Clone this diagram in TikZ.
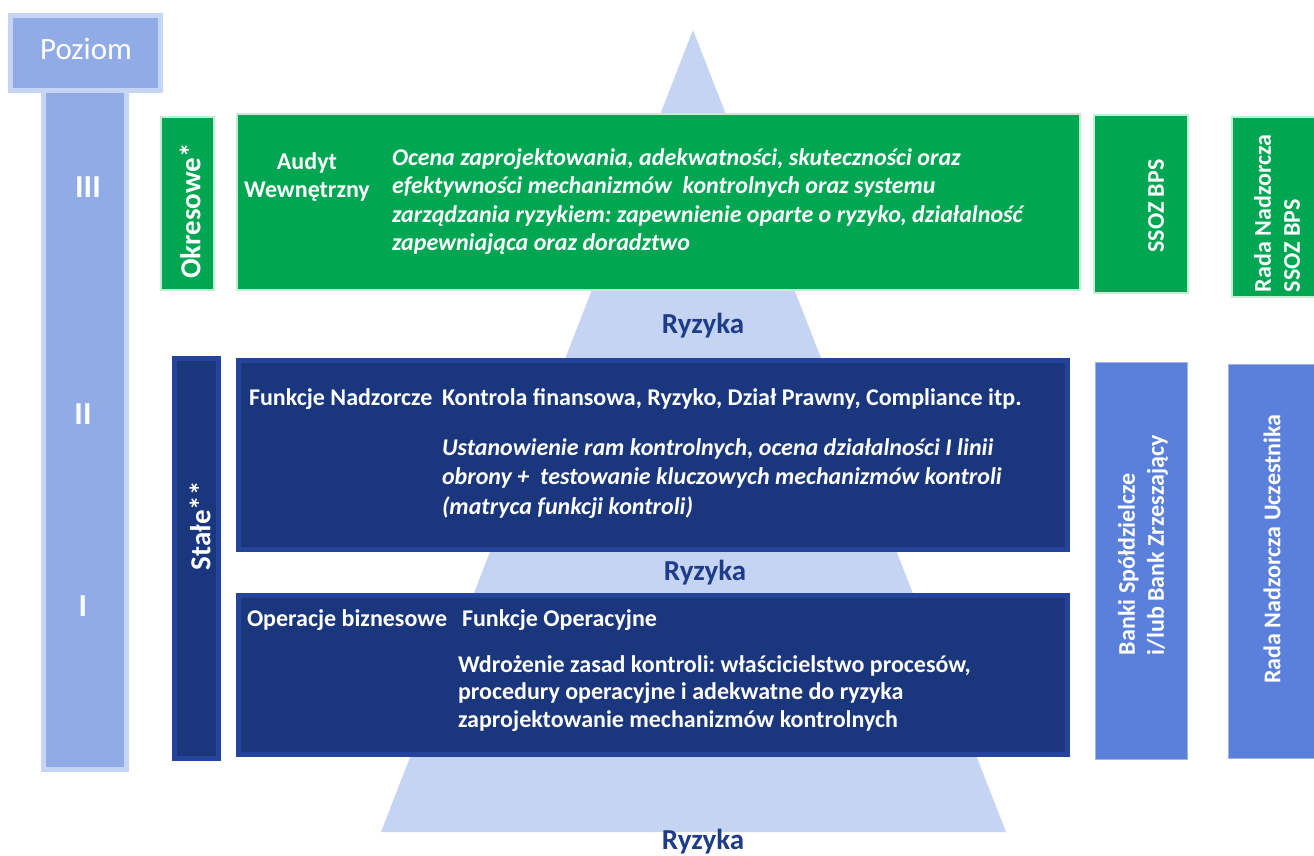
\documentclass[tikz,border=0pt]{standalone}
\usepackage{fontspec}
\setmainfont{Carlito}
\frenchspacing
\definecolor{pyr}{HTML}{C5D4F3}
\definecolor{pozfill}{HTML}{91ABE7}
\definecolor{pozborder}{HTML}{C6D5F6}
\definecolor{grn}{HTML}{00A651}
\definecolor{mint}{HTML}{BFF0D4}
\definecolor{dblue}{HTML}{1A367C}
\definecolor{dborder}{HTML}{23449A}
\definecolor{rblue}{HTML}{5A80DB}
\definecolor{rborder}{HTML}{9DB4EC}
\definecolor{ryz}{HTML}{1F3C88}
\begin{document}
\begin{tikzpicture}[x=1pt,y=-1pt,
  every node/.style={inner sep=0pt, outer sep=0pt, text=white},
  pozbox/.style={fill=pozfill, draw=pozborder, line width=5pt},
  grnbox/.style={fill=grn, draw=mint, line width=1.5pt},
  dbox/.style={fill=dblue, draw=dborder, line width=5pt},
  rbox/.style={fill=rblue, draw=rborder, line width=1pt},
  bodyb/.style={font=\fontsize{24}{28.5}\selectfont\bfseries},
  bodyi/.style={font=\fontsize{24}{28.5}\selectfont\bfseries\itshape},
  sidetxt/.style={font=\fontsize{29}{30}\selectfont\bfseries, rotate=90},
  righttxt/.style={font=\fontsize{24}{29}\selectfont\bfseries, rotate=90},
  lvl/.style={font=\fontsize{32}{34}\selectfont\bfseries},
  ryzyka/.style={font=\fontsize{29}{30}\selectfont\bfseries, text=ryz}
]
\useasboundingbox (0,0) rectangle (1314,855);
\fill[white] (0,0) rectangle (1314,855);
% pyramid
\fill[pyr] (693,30) -- (381,832) -- (1006,832) -- cycle;
% level column
\path[pozbox] (10.5,15.5) rectangle (160.5,90.5);
\path[pozbox] (43.5,90.5) rectangle (126.5,769.5);
\node[font=\fontsize{31}{32}\selectfont, anchor=base] (poziom) at (86,59) {Poziom};
\node[lvl, anchor=base] (l3) at (88,197) {III};
\node[lvl, anchor=base] (l2) at (83,424) {II};
\node[lvl, anchor=base] (l1) at (83,616) {I};
% green row
\path[grnbox] (161,117) rectangle (214,290);
\node[sidetxt] (okres) at (190,211) {Okresowe*};
\path[grnbox] (237,114) rectangle (1080,290);
\node[bodyb, anchor=base, align=center, text width=160pt] (audyt) at (307,169) {Audyt\\Wewnętrzny};
\node[bodyi, anchor=base west, align=flush left, text width=670pt] (ocena) at (392,165)
 {Ocena zaprojektowania, adekwatności, skuteczności oraz\\
  efektywności mechanizmów\ \ kontrolnych oraz systemu\\
  zarządzania ryzykiem: zapewnienie oparte o ryzyko, działalność\\
  zapewniająca oraz doradztwo};
\path[grnbox] (1094,115) rectangle (1188,293);
\node[righttxt] (ssoz) at (1156,206) {SSOZ BPS};
\path[grnbox] (1232,117) rectangle (1320,297);
\node[righttxt, anchor=west, align=flush left, text width=200pt] (radassoz) at (1277,292) {Rada Nadzorcza\\SSOZ BPS};
% Ryzyka labels
\node[ryzyka] (ryz3) at (703,326) {Ryzyka};
\node[ryzyka] (ryz2) at (705,573) {Ryzyka};
\node[ryzyka] (ryz1) at (703,842) {Ryzyka};
% blue rows
\path[dbox] (174.5,358.5) rectangle (218.5,758.5);
\node[sidetxt] (stale) at (200,526) {Stałe**};
\path[dbox] (238.5,360.5) rectangle (1067.5,549.5);
\node[bodyb, anchor=base west] (funadz) at (249,405.5) {Funkcje Nadzorcze};
\node[bodyb, anchor=base west] (kontrola) at (442,405.5) {Kontrola finansowa, Ryzyko, Dział Prawny, Compliance itp.};
\node[anchor=base west, align=flush left, text width=620pt, font=\fontsize{24}{29.5}\selectfont\bfseries\itshape] (ustan) at (442,455)
 {Ustanowienie ram kontrolnych, ocena działalności I linii\\
  obrony +\ \ testowanie kluczowych mechanizmów kontroli\\
  (matryca funkcji kontroli)};
\path[dbox] (238.5,595.5) rectangle (1067.5,754.5);
\node[bodyb, anchor=base west] (operb) at (247,626.5) {Operacje biznesowe};
\node[bodyb, anchor=base west] (funop) at (462,626.5) {Funkcje Operacyjne};
\node[anchor=base west, align=flush left, text width=600pt, font=\fontsize{24}{27.5}\selectfont\bfseries] (wdroz) at (458,672)
 {Wdrożenie zasad kontroli: właścicielstwo procesów,\\
  procedury operacyjne i adekwatne do ryzyka\\
  zaprojektowanie mechanizmów kontrolnych};
% right blue columns
\path[rbox] (1095,362) rectangle (1187,759);
\node[righttxt, anchor=west, align=flush left, text width=300pt] (banki) at (1143,655) {Banki Spółdzielcze\\i/lub Bank Zrzeszający};
\path[rbox] (1228,364) rectangle (1320,758);
\node[righttxt] (radau) at (1272,549) {Rada Nadzorcza Uczestnika};
\end{tikzpicture}
\end{document}
